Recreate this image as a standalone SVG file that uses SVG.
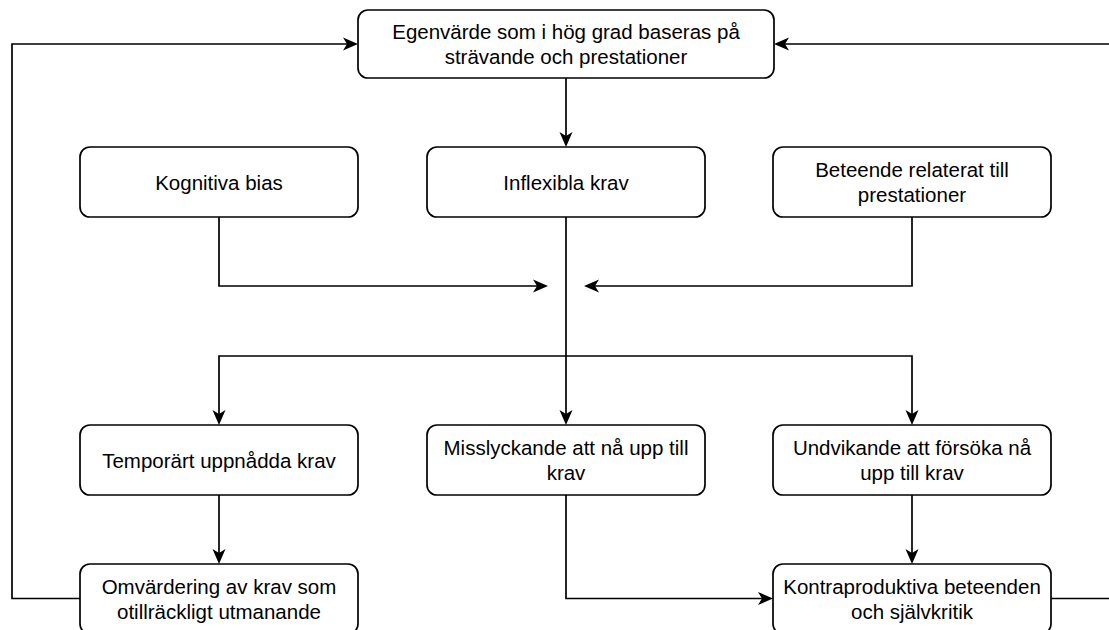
<svg xmlns="http://www.w3.org/2000/svg" width="1109" height="630" viewBox="0 0 1109 630">
<style>
.box{fill:#ffffff;stroke:#000000;stroke-width:1.7}
.t{font-family:"Liberation Sans",Arial,Helvetica,sans-serif;font-size:20.5px;fill:#000000;text-anchor:middle;dominant-baseline:central}
.edge{fill:none;stroke:#000000;stroke-width:1.7}
</style>
<defs>
<marker id="arr" viewBox="0 0 15 14" refX="10" refY="7" markerWidth="15" markerHeight="14" orient="auto" markerUnits="userSpaceOnUse">
<path d="M0,0.5 L15,7 L0,13.5 L4,7 Z" fill="#000000"/>
</marker>
</defs>
<rect width="1109" height="630" fill="#ffffff"/>
<g id="connectors">
<path class="edge" d="M566,78 V142" marker-end="url(#arr)"/>
<path class="edge" d="M219,217 V286 H543" marker-end="url(#arr)"/>
<path class="edge" d="M912,217 V286 H589" marker-end="url(#arr)"/>
<path class="edge" d="M566,217 V420" marker-end="url(#arr)"/>
<path class="edge" d="M566,356 H219 V420" marker-end="url(#arr)"/>
<path class="edge" d="M566,356 H912 V420" marker-end="url(#arr)"/>
<path class="edge" d="M219,495 V559" marker-end="url(#arr)"/>
<path class="edge" d="M912,495 V559" marker-end="url(#arr)"/>
<path class="edge" d="M566,495 V598.5 H768" marker-end="url(#arr)"/>
<path class="edge" d="M80,598.5 H12 V44 H353" marker-end="url(#arr)"/>
<path class="edge" d="M1051,598.5 H1125 V44 H779" marker-end="url(#arr)"/>
</g>
<g id="n-top">
<rect class="box" x="358" y="10" width="416" height="68" rx="10"/>
<text class="t" x="566" y="31.5">Egenvärde som i hög grad baseras på</text>
<text class="t" x="566" y="56.5">strävande och prestationer</text>
</g>
<g id="n-kognitiva">
<rect class="box" x="80" y="147" width="278" height="70" rx="10"/>
<text class="t" x="219" y="182">Kognitiva bias</text>
</g>
<g id="n-inflexibla">
<rect class="box" x="427" y="147" width="278" height="70" rx="10"/>
<text class="t" x="566" y="182">Inflexibla krav</text>
</g>
<g id="n-beteende">
<rect class="box" x="773" y="147" width="278" height="70" rx="10"/>
<text class="t" x="912" y="169.5">Beteende relaterat till</text>
<text class="t" x="912" y="194.5">prestationer</text>
</g>
<g id="n-temporart">
<rect class="box" x="80" y="425" width="278" height="70" rx="10"/>
<text class="t" x="219" y="460">Temporärt uppnådda krav</text>
</g>
<g id="n-misslyckande">
<rect class="box" x="427" y="425" width="278" height="70" rx="10"/>
<text class="t" x="566" y="447.5">Misslyckande att nå upp till</text>
<text class="t" x="566" y="472.5">krav</text>
</g>
<g id="n-undvikande">
<rect class="box" x="773" y="425" width="278" height="70" rx="10"/>
<text class="t" x="912" y="447.5">Undvikande att försöka nå</text>
<text class="t" x="912" y="472.5">upp till krav</text>
</g>
<g id="n-omvardering">
<rect class="box" x="80" y="564" width="278" height="70" rx="10"/>
<text class="t" x="219" y="586.5">Omvärdering av krav som</text>
<text class="t" x="219" y="611.5">otillräckligt utmanande</text>
</g>
<g id="n-kontraproduktiva">
<rect class="box" x="773" y="564" width="278" height="70" rx="10"/>
<text class="t" x="912" y="586.5">Kontraproduktiva beteenden</text>
<text class="t" x="912" y="611.5">och självkritik</text>
</g>
</svg>
